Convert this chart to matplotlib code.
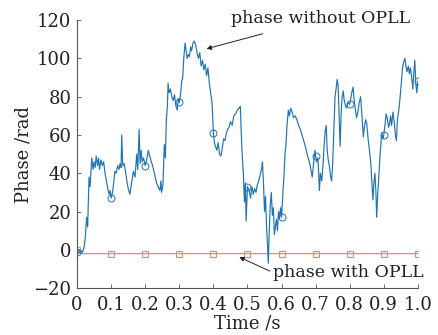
import matplotlib
matplotlib.use("Agg")
import matplotlib.pyplot as plt
import numpy as np

# Phase without OPLL (blue)
t_blue = [0.000, 0.005, 0.010, 0.015, 0.020, 0.024, 0.028, 0.031, 0.035, 0.038,
          0.043, 0.047, 0.050, 0.053, 0.056, 0.060, 0.063, 0.066, 0.070, 0.074,
          0.078, 0.082, 0.086, 0.090, 0.094, 0.097, 0.100, 0.104, 0.108, 0.111,
          0.115, 0.119, 0.123, 0.126, 0.129, 0.131, 0.134, 0.138, 0.142, 0.146,
          0.150, 0.155, 0.160, 0.165, 0.170, 0.175, 0.178, 0.182, 0.185, 0.188,
          0.191, 0.195, 0.200, 0.204, 0.209, 0.213, 0.218, 0.223, 0.228, 0.233,
          0.238, 0.243, 0.246, 0.248, 0.252, 0.256, 0.259, 0.262, 0.265, 0.267,
          0.270, 0.274, 0.278, 0.282, 0.286, 0.290, 0.294, 0.297, 0.300, 0.304,
          0.307, 0.310, 0.313, 0.317, 0.320, 0.323, 0.326, 0.330, 0.333, 0.336,
          0.340, 0.344, 0.348, 0.352, 0.356, 0.360, 0.364, 0.368, 0.372, 0.376,
          0.380, 0.384, 0.388, 0.392, 0.396, 0.400, 0.403, 0.406, 0.410, 0.414,
          0.418, 0.422, 0.426, 0.430, 0.434, 0.438, 0.442, 0.446, 0.450, 0.455,
          0.460, 0.465, 0.470, 0.475, 0.479, 0.482, 0.485, 0.488, 0.491, 0.494,
          0.496, 0.500, 0.505, 0.509, 0.513, 0.517, 0.521, 0.525, 0.529, 0.533,
          0.537, 0.541, 0.544, 0.547, 0.550, 0.553, 0.556, 0.559, 0.561, 0.564,
          0.567, 0.570, 0.573, 0.576, 0.579, 0.582, 0.585, 0.588, 0.591, 0.594,
          0.597, 0.600, 0.604, 0.607, 0.610, 0.613, 0.616, 0.620, 0.623, 0.627,
          0.631, 0.635, 0.640, 0.645, 0.650, 0.655, 0.660, 0.665, 0.670, 0.675,
          0.680, 0.685, 0.690, 0.694, 0.698, 0.700, 0.703, 0.706, 0.708, 0.711,
          0.714, 0.718, 0.722, 0.725, 0.728, 0.731, 0.734, 0.737, 0.741, 0.744,
          0.747, 0.750, 0.753, 0.757, 0.760, 0.763, 0.766, 0.769, 0.772, 0.775,
          0.778, 0.781, 0.784, 0.788, 0.791, 0.795, 0.800, 0.803, 0.806, 0.810,
          0.813, 0.817, 0.820, 0.824, 0.828, 0.832, 0.836, 0.840, 0.843, 0.847,
          0.850, 0.854, 0.858, 0.862, 0.866, 0.868, 0.871, 0.874, 0.877, 0.879,
          0.882, 0.886, 0.890, 0.894, 0.898, 0.900, 0.904, 0.907, 0.911, 0.914,
          0.917, 0.920, 0.923, 0.927, 0.931, 0.934, 0.937, 0.940, 0.944, 0.947,
          0.951, 0.955, 0.958, 0.962, 0.965, 0.968, 0.972, 0.975, 0.978, 0.982,
          0.985, 0.988, 0.991, 0.994, 0.997, 1.000]
v_blue = [-1, -1.5, -0.5, -1.5, 1, 6, 17, 12, 38, 33,
          48, 42, 46, 43, 49, 44, 48, 42, 47, 44,
          46, 40, 36, 32, 29, 31, 27, 30, 36, 41,
          40, 44, 42, 45, 43, 60, 44, 45, 41, 36,
          32, 29, 35, 41, 38, 50, 42, 63, 45, 52,
          46, 48, 44, 47, 52, 49, 46, 43, 39, 35,
          33, 31, 36, 30, 34, 55, 48, 68, 75, 87,
          82, 84, 80, 78, 81, 75, 73, 79, 77, 82,
          88, 90, 100, 108, 104, 100, 102, 101, 106, 104,
          108, 109, 107, 103, 100, 103, 96, 99, 94, 97,
          91, 95, 87, 82, 77, 61, 56, 54, 52, 56,
          50, 49, 53, 58, 57, 61, 63, 64, 67, 65,
          70, 71, 73, 74, 75, 60, 48, 40, 25, 35,
          15, 33, 31, 27, 33, 29, 32, 30, 34, 36,
          39, 42, 46, 35, 20, 28, 12, 2, -7, 10,
          24, 30, 18, 22, 8, 12, 16, 10, 20, 16,
          22, 17, 30, 38, 50, 55, 65, 73, 70, 74,
          72, 69, 70, 68, 65, 63, 60, 57, 54, 50,
          47, 43, 38, 45, 52, 49, 46, 48, 44, 31,
          40, 36, 45, 55, 62, 65, 52, 47, 43, 38,
          36, 45, 60, 80, 84, 89, 86, 70, 54, 72,
          80, 83, 78, 75, 74, 77, 76, 79, 82, 85,
          78, 73, 69, 72, 77, 80, 70, 59, 64, 68,
          66, 58, 52, 45, 32, 26, 35, 40, 30, 17,
          28, 40, 52, 61, 58, 60, 66, 71, 68, 64,
          66, 70, 65, 72, 66, 60, 57, 68, 73, 78,
          86, 95, 98, 100, 96, 93, 96, 92, 95, 90,
          84, 92, 99, 87, 82, 88]

# Phase with OPLL (orange)
t_orange = [0.000, 0.005, 0.010, 0.100, 0.200, 0.300, 0.400, 0.500,
            0.600, 0.700, 0.800, 0.900, 1.000]
v_orange = [0, -1.5, -2, -2, -2, -2, -2, -2, -2, -2, -2, -2, -2]

x_ticks = [0, 0.1, 0.2, 0.3, 0.4, 0.5, 0.6, 0.7, 0.8, 0.9, 1.0]
x_ticklabels = ["0", "0.1", "0.2", "0.3", "0.4", "0.5", "0.6", "0.7", "0.8", "0.9", "1.0"]
y_ticks = [-20, 0, 20, 40, 60, 80, 100, 120]

plt.rcParams['font.family'] = ['DejaVu Serif']
plt.rcParams['axes.unicode_minus'] = True

fig = plt.figure(figsize=(4.38, 3.35), dpi=100)
ax = fig.add_axes([0.176, 0.140, 0.778, 0.800])

blue = '#1f74b4'
orange = '#e0906e'

tb = np.array(t_blue)
mk_b = [int(np.argmin(np.abs(tb - x))) for x in x_ticks]
to = np.array(t_orange)
mk_o = [int(np.argmin(np.abs(to - x))) for x in x_ticks]

ax.plot(t_orange, v_orange, color=orange, lw=0.9, marker='s', markersize=4.5,
        markerfacecolor='none', markeredgewidth=0.8, markevery=mk_o, zorder=2)
ax.plot(t_blue, v_blue, color=blue, lw=0.85, marker='o', markersize=5,
        markerfacecolor='none', markeredgewidth=0.7, markevery=mk_b, zorder=3)

ax.set_xlim(0, 1.0)
ax.set_ylim(-20, 120)
ax.set_xticks(x_ticks)
ax.set_xticklabels(x_ticklabels)
ax.set_yticks(y_ticks)

for s in ['top', 'right']:
    ax.spines[s].set_visible(False)
for s in ['left', 'bottom']:
    ax.spines[s].set_color('#555555')
    ax.spines[s].set_linewidth(0.8)

ax.tick_params(direction='in', length=3, width=0.6, colors='#555555',
               labelcolor='#222222', labelsize=13)
ax.tick_params(axis='x', pad=6)
ax.tick_params(axis='y', pad=4)

ax.set_xlabel('Time /s', fontsize=13, color='#222222', labelpad=0)
ax.set_ylabel('Phase /rad', fontsize=13, color='#222222', labelpad=1)

ax.annotate('phase without OPLL', xy=(0.380, 105), xytext=(0.715, 121),
            textcoords='data', ha='center', va='center', fontsize=12.5,
            color='#222222', annotation_clip=False,
            arrowprops=dict(arrowstyle='-|>', color='#222222', lw=0.7,
                            mutation_scale=7, shrinkA=12, shrinkB=0))
ax.annotate('phase with OPLL', xy=(0.476, -3.8), xytext=(0.795, -11.8),
            textcoords='data', ha='center', va='center', fontsize=12.5,
            color='#222222', annotation_clip=False,
            arrowprops=dict(arrowstyle='-|>', color='#222222', lw=0.7,
                            mutation_scale=7, shrinkA=42, shrinkB=0,
                            relpos=(0.0, 0.5)))

fig.savefig('out.png', dpi=100)
